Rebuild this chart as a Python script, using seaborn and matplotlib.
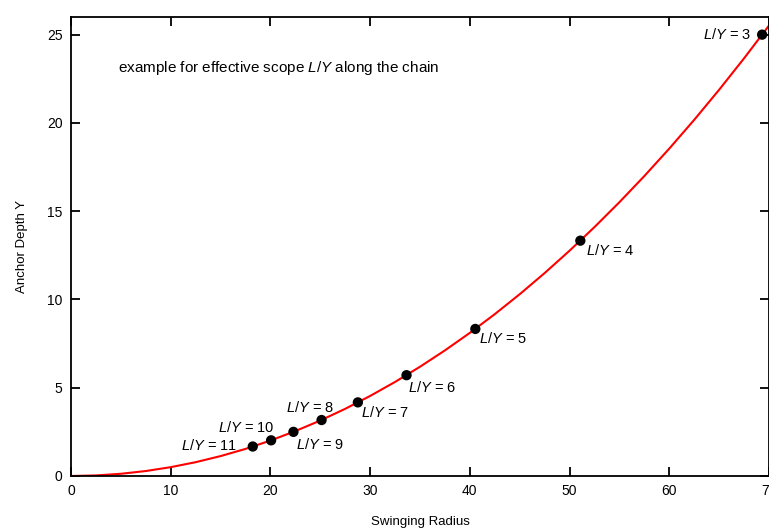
import matplotlib
matplotlib.use("Agg")
import matplotlib.pyplot as plt
import seaborn as sns
import pandas as pd

# curve (swinging radius vs anchor depth)
curve_x = [0, 2.5, 5, 7.5, 10, 12.5, 15, 17.5, 20, 22.5, 25, 27.5, 30, 32.5, 35,
           37.5, 40, 42.5, 45, 47.5, 50, 52.5, 55, 57.5, 60, 62.5, 65, 67.5, 70]
curve_y = [0, 0.031, 0.125, 0.281, 0.500, 0.782, 1.127, 1.534, 2.007, 2.544,
           3.141, 3.805, 4.534, 5.328, 6.188, 7.114, 8.107, 9.168, 10.297,
           11.495, 12.763, 14.101, 15.510, 16.992, 18.547, 20.175, 21.879,
           23.660, 25.517]

# marked points along the chain
scope = [3, 4, 5, 6, 7, 8, 9, 10, 11]
pt_x = [69.31, 51.08, 40.55, 33.65, 28.77, 25.13, 22.31, 20.07, 18.23]
pt_y = [25.0, 13.33, 8.33, 5.71, 4.17, 3.17, 2.50, 2.02, 1.67]

# label offsets (points) and alignment
offsets = {3: (-8, 0, "right"), 4: (4, -7, "left"), 5: (3, -7, "left"),
           6: (1, -9, "left"), 7: (2, -7, "left"), 8: (9, 9, "right"),
           9: (2, -9, "left"), 10: (2, 9, "right"), 11: (-11, 1, "right")}

sns.set_theme(style="ticks")
plt.rcParams["font.family"] = ["Liberation Sans", "DejaVu Sans"]
plt.rcParams["mathtext.fontset"] = "custom"
plt.rcParams["mathtext.rm"] = "Liberation Sans"
plt.rcParams["mathtext.it"] = "Liberation Sans:italic"
plt.rcParams["text.color"] = "black"
plt.rcParams["axes.labelcolor"] = "black"
plt.rcParams["xtick.color"] = "black"
plt.rcParams["ytick.color"] = "black"
plt.rcParams["axes.edgecolor"] = "black"

fig = plt.figure(figsize=(7.69, 5.28), dpi=100)
ax = fig.add_axes([0.0923, 0.0985, 0.9077, 0.8693])

curve = pd.DataFrame({"x": curve_x, "y": curve_y})
pts = pd.DataFrame({"x": pt_x, "y": pt_y, "n": scope})

sns.lineplot(data=curve, x="x", y="y", color="#ff0000", linewidth=1.5, ax=ax)
sns.scatterplot(data=pts, x="x", y="y", color="black", s=55, edgecolor="none",
                zorder=3, ax=ax, clip_on=False)

for n, x, y in zip(scope, pt_x, pt_y):
    dx, dy, ha = offsets[n]
    ax.annotate(f"$L/Y$ = {n}", (x, y), xytext=(dx, dy), textcoords="offset points",
                ha=ha, va="center", fontsize=10.5)

ax.text(4.7, 23.1, "example for effective scope $L/Y$ along the chain",
        fontsize=11, va="center")

ax.set_xlim(0, 70)
ax.set_ylim(0, 26)
ax.set_xticks(range(0, 71, 10))
ax.set_yticks(range(0, 26, 5))
ax.tick_params(direction="in", length=6.5, width=1.3, top=True, right=True,
               labelsize=10, pad=6)
for sp in ax.spines.values():
    sp.set_linewidth(1.3)

ax.set_xlabel("Swinging Radius", fontsize=9.5, labelpad=13)
ax.set_ylabel("Anchor Depth Y", fontsize=9.5, labelpad=14)

fig.savefig("out.png", dpi=100)
